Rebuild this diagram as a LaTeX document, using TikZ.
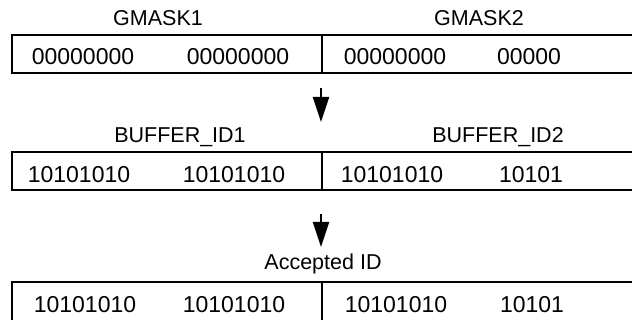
\documentclass[tikz,border=0pt]{standalone}
\usepackage{fontspec}
\setmainfont{Liberation Sans}
\usetikzlibrary{arrows.meta,positioning}

\begin{document}
\begin{tikzpicture}[x=1pt,y=-1pt,
    >={Triangle[length=25pt,width=16pt]},
    every node/.style={inner sep=0pt, anchor=base},
    bits/.style={font=\fontsize{23}{27}\selectfont},
    regname/.style={font=\fontsize{21.5}{26}\selectfont},
    regbox/.style={draw, line width=2.4pt},
    flow/.style={->, line width=2pt}]
  \clip (0,0) rectangle (632,320);

  % GMASK register
  \node[regname] (gmaskA) at (158,26) {GMASK1};
  \node[regname] (gmaskB) at (479,26) {GMASK2};
  \draw[regbox] (12,35) rectangle (645,73);
  \draw[regbox] (322,35) -- (322,73);
  \node[bits] (gmA1) at (83,65) {00000000};
  \node[bits] (gmA2) at (238,65) {00000000};
  \node[bits] (gmB1) at (395,65) {00000000};
  \node[bits] (gmB2) at (529,65) {00000};

  % BUFFER_ID register
  \node[regname] (bufA) at (180,143) {BUFFER\_ID1};
  \node[regname] (bufB) at (498,143) {BUFFER\_ID2};
  \draw[regbox] (12,152) rectangle (645,190);
  \draw[regbox] (322,152) -- (322,190);
  \node[bits] (bfA1) at (79,183) {10101010};
  \node[bits] (bfA2) at (234,183) {10101010};
  \node[bits] (bfB1) at (392,183) {10101010};
  \node[bits] (bfB2) at (531,183) {10101};

  % Accepted ID
  \node[regname] (acc) at (323,270) {Accepted ID};
  \draw[regbox] (12,282) rectangle (645,325);
  \draw[regbox] (322,282) -- (322,325);
  \node[bits] (acA1) at (85,313) {10101010};
  \node[bits] (acA2) at (234,313) {10101010};
  \node[bits] (acB1) at (396,313) {10101010};
  \node[bits] (acB2) at (532,313) {10101};

  % arrows
  \coordinate (a1s) at (321,88);
  \coordinate (a1e) at (321,122);
  \coordinate (a2s) at (321,214);
  \coordinate (a2e) at (321,247);
  \draw[flow] (a1s) -- (a1e);
  \draw[flow] (a2s) -- (a2e);
\end{tikzpicture}
\end{document}
